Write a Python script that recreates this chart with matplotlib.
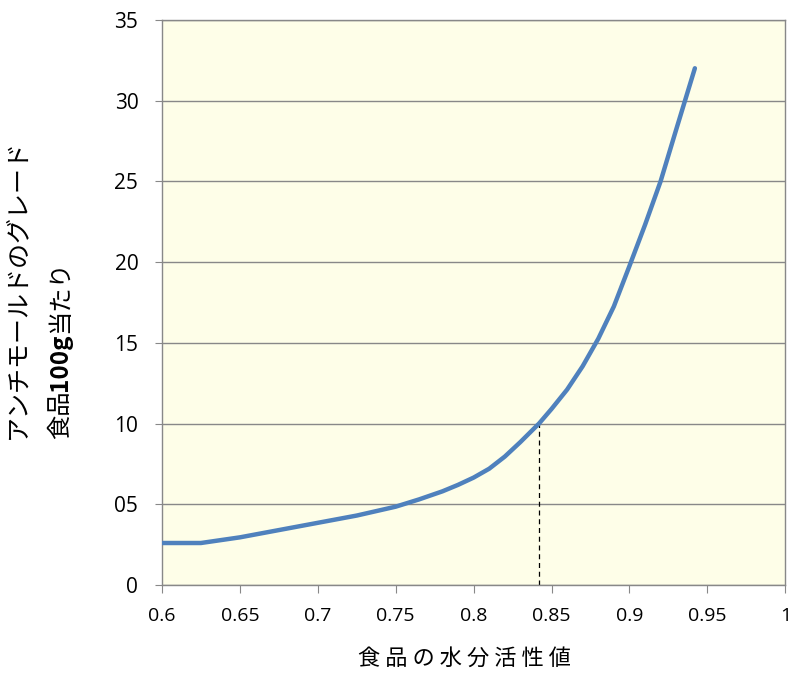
import matplotlib
matplotlib.use("Agg")
import matplotlib.pyplot as plt

# values
water_activity = [0.600, 0.625, 0.650, 0.675, 0.700, 0.725, 0.750, 0.765, 0.780,
                  0.790, 0.800, 0.810, 0.820, 0.830, 0.842, 0.850, 0.860, 0.870,
                  0.880, 0.890, 0.900, 0.910, 0.920, 0.930, 0.942]
grade = [2.6, 2.6, 2.95, 3.4, 3.85, 4.3, 4.85, 5.3, 5.8,
         6.2, 6.65, 7.2, 7.95, 8.85, 10.0, 10.9, 12.1, 13.55,
         15.25, 17.25, 19.75, 22.3, 25.0, 28.2, 32.0]
marker_x = 0.842
marker_y = 10.0
x_ticks = [0.6, 0.65, 0.7, 0.75, 0.8, 0.85, 0.9, 0.95, 1]
x_labels = ["0.6", "0.65", "0.7", "0.75", "0.8", "0.85", "0.9", "0.95", "1"]
y_ticks = [0, 5, 10, 15, 20, 25, 30, 35]
y_labels = ["0", "05", "10", "15", "20", "25", "30", "35"]

jp = ["Noto Sans CJK JP", "DejaVu Sans"]
num_font = "Open Sans"

fig = plt.figure(figsize=(7.9, 6.83), dpi=100)
ax = fig.add_axes([0.205, 0.1435, 0.789, 0.8275])
ax.set_facecolor("#FEFEE8")

ax.plot(water_activity, grade, color="#4F81BD", lw=3.2, solid_capstyle="round",
        solid_joinstyle="round", zorder=3)
ax.plot([marker_x, marker_x], [0, marker_y], color="black", lw=0.9, ls=(0, (4, 3)), zorder=2)

ax.set_xlim(0.6, 1.0)
ax.set_ylim(0, 35)
ax.set_xticks(x_ticks)
ax.set_xticklabels(x_labels, fontfamily=num_font, fontsize=14)
ax.set_yticks(y_ticks)
ax.set_yticklabels(y_labels, fontfamily=num_font, fontsize=15)
ax.tick_params(axis="x", length=6, color="#888888", pad=10)
ax.tick_params(axis="y", length=5, color="#888888", pad=12)
ax.grid(axis="y", color="#888888", lw=1.0)
ax.set_axisbelow(True)
for s in ax.spines.values():
    s.set_color("#888888")
    s.set_linewidth(1.0)

fig.text(0.588, 0.02, "食 品 の 水 分 活 性 値", fontfamily=jp, fontsize=16, ha="center", va="bottom")

# y label: two rotated lines, "100g" bold in the second one
fig.text(0.022, 0.357, "アンチモールドのグレード", fontfamily=jp, fontsize=18,
         rotation=90, ha="center", va="bottom")
fig.canvas.draw()
r = fig.canvas.get_renderer()
y0 = 0.357
for piece, weight in [("食品", "normal"), ("100g", "bold"), ("当たり", "normal")]:
    t = fig.text(0.076, y0, piece, fontfamily=jp, fontsize=17.5, fontweight=weight,
                 rotation=90, ha="center", va="bottom")
    bb = t.get_window_extent(renderer=r)
    y0 += bb.height / fig.bbox.height

fig.savefig("out.png", dpi=100)
